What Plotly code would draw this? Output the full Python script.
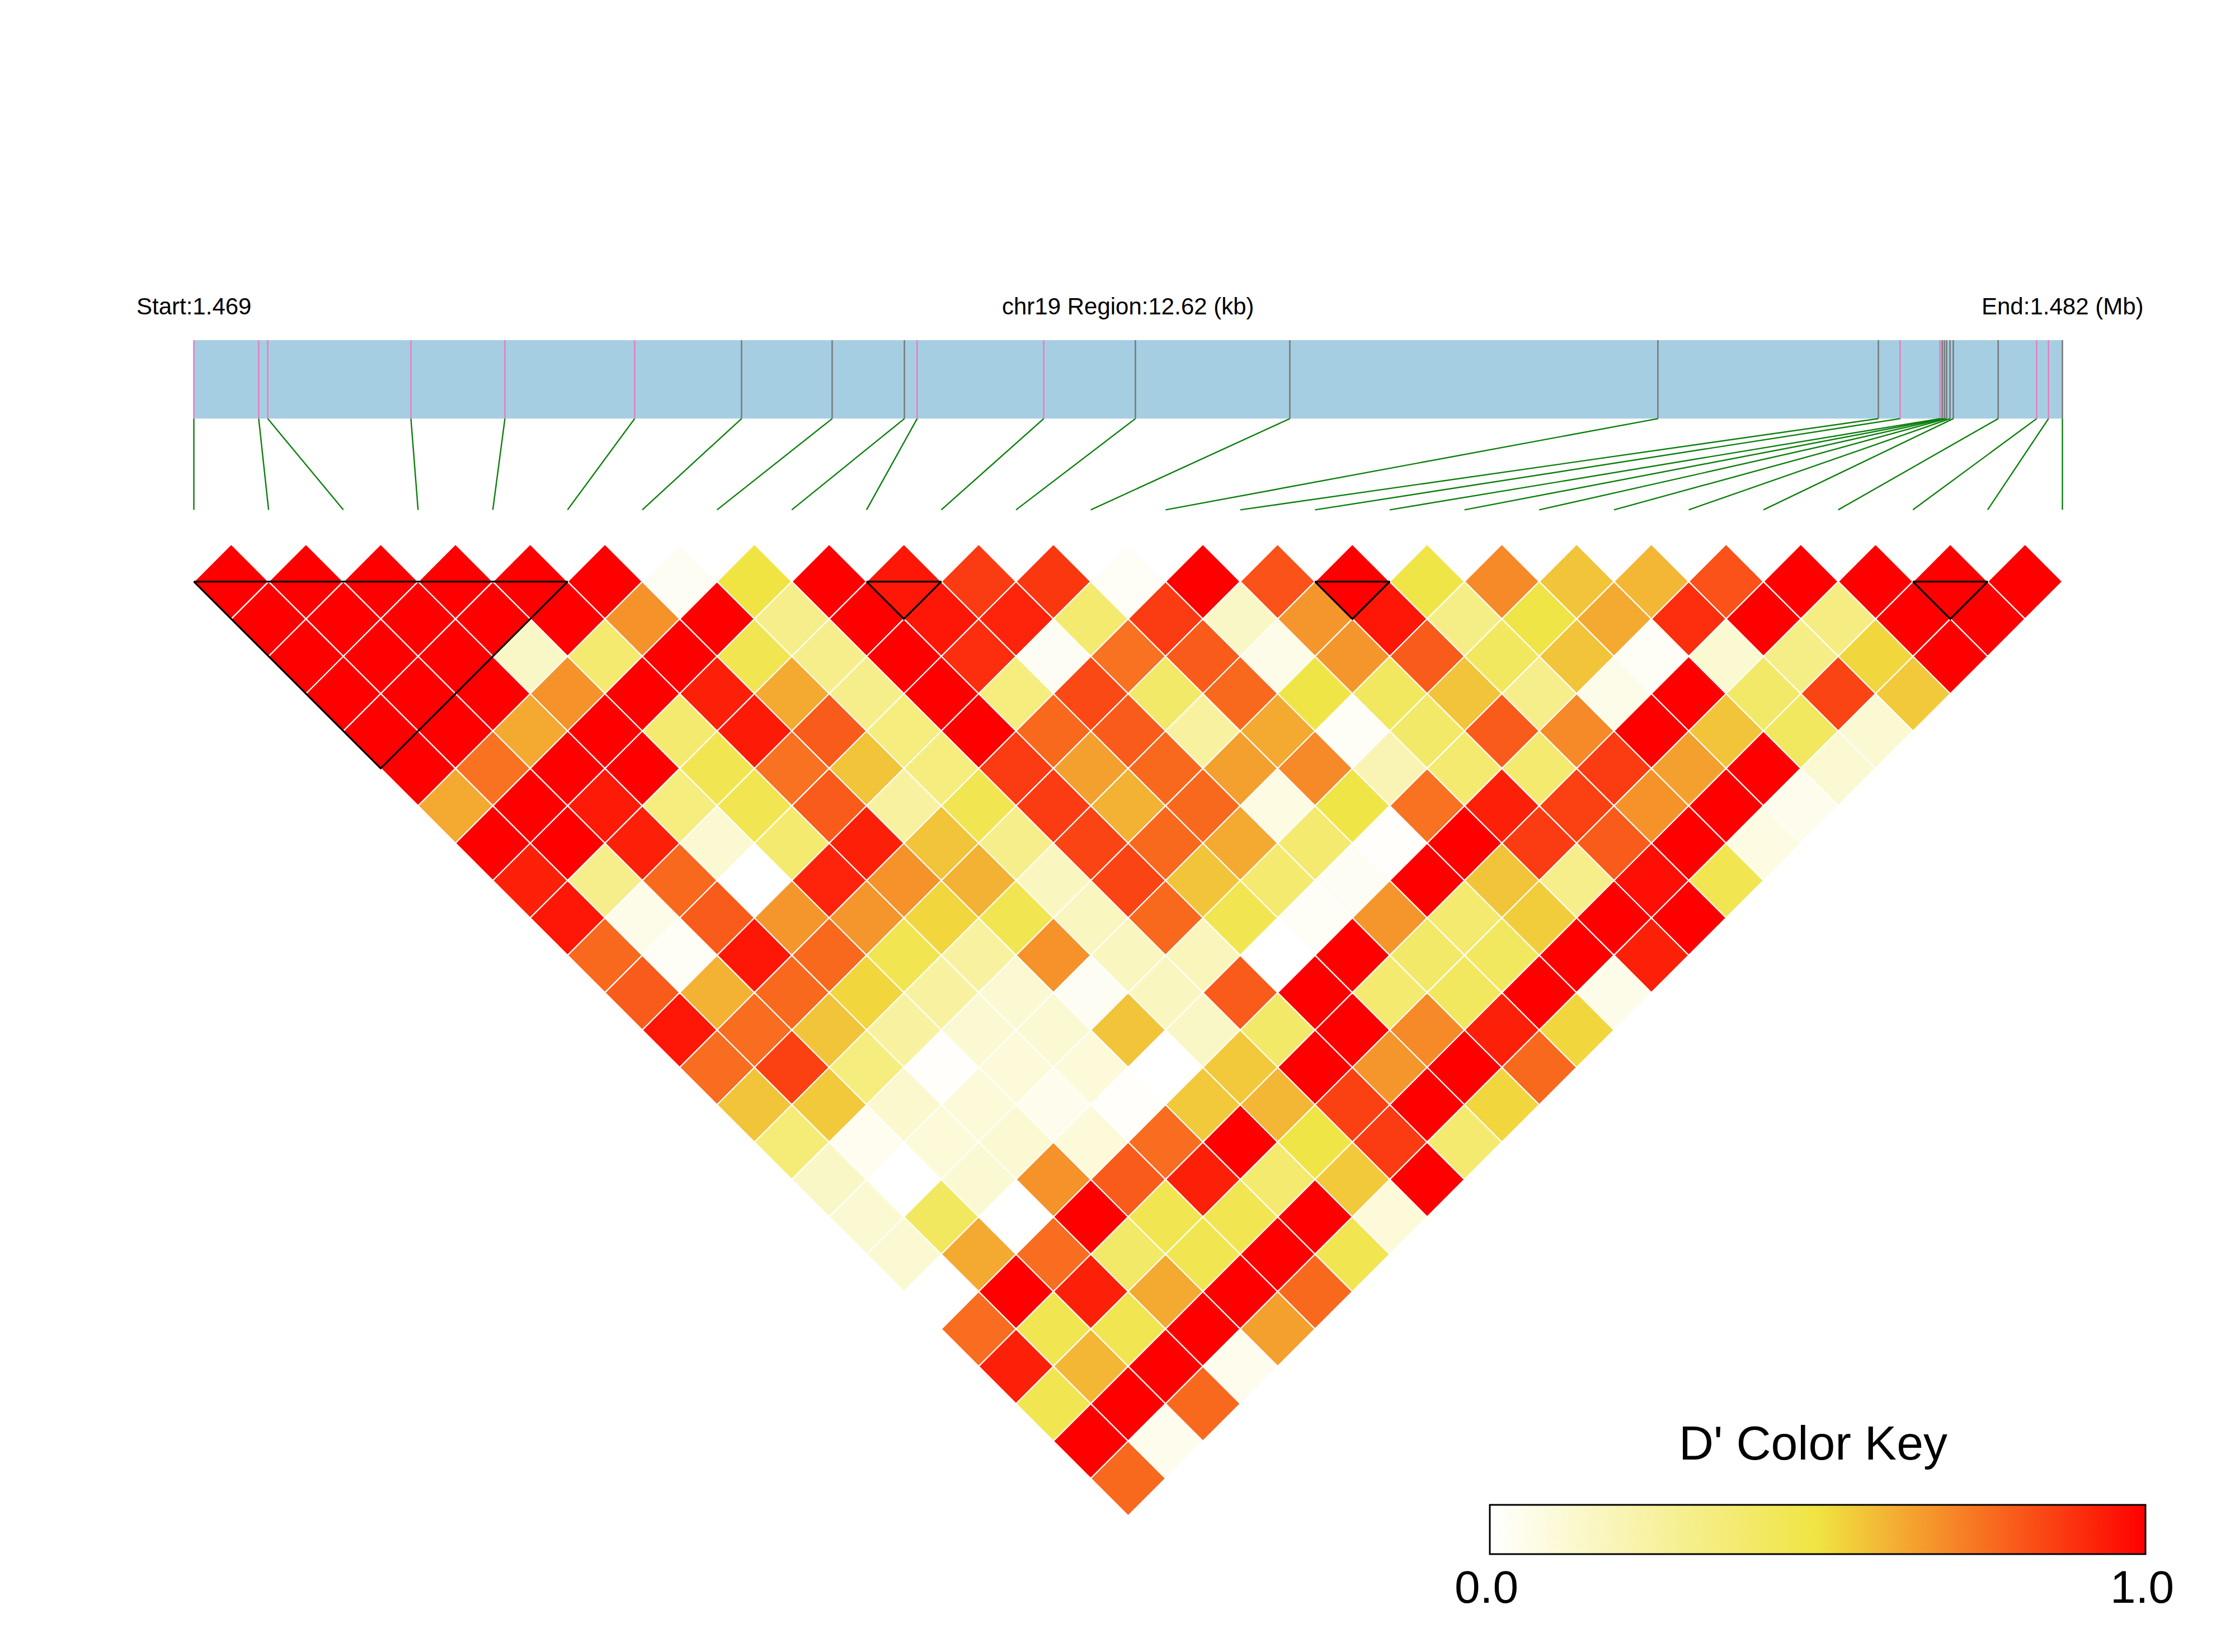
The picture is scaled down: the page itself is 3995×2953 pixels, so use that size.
import plotly.graph_objects as go
from plotly.colors import sample_colorscale

# ---------------- data ----------------
chrom = "chr19"
region_start = 1469200
region_end = 1481820

snp_pos = [1469200, 1469638, 1469699, 1470666, 1471301, 1472177, 1472899, 1473511,
           1473999, 1474085, 1474940, 1475559, 1476602, 1479088, 1480577, 1480724,
           1480993, 1481008, 1481023, 1481038, 1481061, 1481083, 1481386, 1481646,
           1481726, 1481820]
snp_group = ["pink", "pink", "pink", "pink", "pink", "pink", "gray", "gray",
             "gray", "pink", "pink", "gray", "gray", "gray", "gray", "pink",
             "pink", "gray", "gray", "gray", "gray", "gray", "gray", "pink",
             "pink", "gray"]

# D' values by SNP distance (lag k: pairs (i, i+k))
lag1 = [1, 1, 1, 1, 1, 1, 0.03, 0.50, 1, 0.95, 0.87, 0.88, 0.02, 1, 0.82, 1, 0.49, 0.70, 0.57, 0.60, 0.82, 1, 1, 1, 1]
lag2 = [1, 1, 1, 1, 1, 0.68, 1, 0.31, 1, 0.95, 0.92, 0.38, 0.87, 0.15, 0.67, 0.95, 0.32, 0.49, 0.63, 0.90, 1, 0.33, 1, 1]
lag3 = [1, 1, 1, 0.15, 0.38, 1, 0.46, 0.31, 1, 0.90, 0.03, 0.75, 0.80, 0.06, 0.67, 0.80, 0.42, 0.57, 0.02, 0.12, 0.32, 0.53, 1]
lag4 = [1, 1, 1, 0.68, 1, 0.93, 0.63, 0.31, 1, 0.34, 0.84, 0.40, 0.77, 0.49, 0.42, 0.57, 0.31, 0.06, 1, 0.40, 0.85, 0.56]
lag5 = [1, 1, 0.63, 1, 0.38, 0.94, 0.80, 0.34, 1, 0.77, 0.80, 0.25, 0.63, 0.02, 0.40, 0.80, 0.70, 1, 0.57, 0.42, 0.12]
lag6 = [1, 0.75, 1, 1, 0.46, 0.75, 0.57, 0.34, 0.87, 0.65, 0.77, 0.65, 0.70, 0.20, 0.38, 0.38, 0.87, 0.65, 1, 0.12]
lag7 = [0.63, 1, 0.94, 0.34, 0.46, 0.80, 0.25, 0.46, 0.87, 0.61, 0.77, 0.08, 0.49, 0.75, 0.93, 0.86, 0.68, 1, 0.05]
lag8 = [1, 1, 0.93, 0.12, 0.38, 0.93, 0.57, 0.31, 0.85, 0.77, 0.63, 0.38, 0.01, 1, 0.87, 0.80, 1, 0.08]
lag9 = [0.93, 0.31, 0.77, 0.0, 0.92, 0.68, 0.61, 0.17, 0.85, 0.57, 0.38, 0.03, 1, 0.57, 0.31, 0.97, 0.46]
lag10 = [0.95, 0.06, 0.80, 0.67, 0.67, 0.53, 0.46, 0.17, 0.77, 0.46, 0.02, 0.67, 0.38, 0.55, 1, 1]
lag11 = [0.77, 0.02, 0.95, 0.77, 0.46, 0.25, 0.68, 0.17, 0.18, 0.0, 1, 0.40, 0.42, 1, 0.93]
lag12 = [0.80, 0.61, 0.77, 0.53, 0.25, 0.12, 0.03, 0.17, 0.80, 1, 0.38, 0.42, 1, 0.06]
lag13 = [0.95, 0.76, 0.57, 0.25, 0.12, 0.12, 0.57, 0.15, 0.40, 1, 0.70, 0.93, 0.53]
lag14 = [0.76, 0.86, 0.34, 0.01, 0.10, 0.10, 0.0, 0.56, 1, 0.67, 1, 0.77]
lag15 = [0.57, 0.56, 0.13, 0.10, 0.05, 0.01, 0.56, 0.60, 0.86, 1, 0.53]
lag16 = [0.36, 0.04, 0.10, 0.12, 0.10, 0.76, 1, 0.49, 0.87, 0.38]
lag17 = [0.15, 0.0, 0.12, 0.68, 0.80, 0.93, 0.38, 0.56, 1]
lag18 = [0.12, 0.42, 0.0, 1, 0.46, 0.46, 1, 0.10]
lag19 = [0.12, 0.63, 0.76, 0.40, 0.46, 1, 0.46]
lag20 = [0.0, 1, 0.93, 0.63, 1, 0.77]
lag21 = [0.76, 0.46, 0.46, 1, 0.65]
lag22 = [0.93, 0.60, 1, 0.05]
lag23 = [0.46, 1, 0.77]
lag24 = [1, 0.05]
lag25 = [0.77]

ld_blocks = [(0, 5), (9, 10), (15, 16), (23, 24)]

key_ticks = [0.0, 1.0]
key_ticktext = ["0.0", "1.0"]

dprime_colorscale = [[0.0, "#FFFFFF"], [0.5, "#F0E442"], [1.0, "#FF0000"]]
group_colors = {"pink": "#E67FBF", "gray": "#7A7A7A"}

# ---------------- layout constants ----------------
FONT = "Liberation Sans, Arial, Helvetica, sans-serif"
W, H = 3995, 2953
BAR_TOP, BAR_BOTTOM, LINK_BOTTOM, LABEL_Y = 3.23, 2.18, 0.96, 3.68
KEY_LEFT, KEY_RIGHT = 2663 / W, 3835 / W   # colour key extent (paper)
KEY_TOP = 1 - 2690 / H

lags = [lag1, lag2, lag3, lag4, lag5, lag6, lag7, lag8, lag9, lag10, lag11, lag12,
        lag13, lag14, lag15, lag16, lag17, lag18, lag19, lag20, lag21, lag22, lag23,
        lag24, lag25]
n = len(snp_pos)
span = region_end - region_start


def phys_x(bp):
    return (bp - region_start) / span * (n - 1)


fig = go.Figure()

# LD cells (rotated squares)
for d, row in enumerate(lags, start=1):
    colors = sample_colorscale(dprime_colorscale, row)
    for i, v in enumerate(row):
        j = i + d
        cx = (i + j) / 2.0
        cy = -(j - i - 1) / 2.0
        fig.add_trace(go.Scatter(
            x=[cx - 0.5, cx, cx + 0.5, cx, cx - 0.5],
            y=[cy, cy + 0.5, cy, cy - 0.5, cy],
            mode="lines", fill="toself", fillcolor=colors[i],
            line=dict(color="white", width=2.2),
            hoverinfo="text", text=f"SNP{i+1} - SNP{j+1}: D'={v:.2f}",
            showlegend=False))

# LD block outlines
bx, by = [], []
for a, b in ld_blocks:
    bx += [a, b, (a + b) / 2.0, a, None]
    by += [0, 0, -(b - a) / 2.0, 0, None]
fig.add_trace(go.Scatter(x=bx, y=by, mode="lines",
                         line=dict(color="black", width=3.2),
                         hoverinfo="skip", showlegend=False))

# genomic bar
x0, x1 = phys_x(region_start), phys_x(region_end)
fig.add_trace(go.Scatter(x=[x0, x1, x1, x0, x0],
                         y=[BAR_BOTTOM, BAR_BOTTOM, BAR_TOP, BAR_TOP, BAR_BOTTOM],
                         mode="lines", fill="toself", fillcolor="#A6CEE3",
                         line=dict(width=0, color="#A6CEE3"),
                         hoverinfo="skip", showlegend=False))

# SNP ticks inside the bar
for grp in ["gray", "pink"]:
    tx, ty = [], []
    for p, g in zip(snp_pos, snp_group):
        if g == grp:
            tx += [phys_x(p), phys_x(p), None]
            ty += [BAR_BOTTOM, BAR_TOP, None]
    fig.add_trace(go.Scatter(x=tx, y=ty, mode="lines",
                             line=dict(color=group_colors[grp], width=2.6),
                             hoverinfo="skip", showlegend=False))

# connecting lines
lx, ly = [], []
for k, p in enumerate(snp_pos):
    lx += [phys_x(p), k, None]
    ly += [BAR_BOTTOM, LINK_BOTTOM, None]
fig.add_trace(go.Scatter(x=lx, y=ly, mode="lines",
                         line=dict(color="#0B7F0B", width=2.4),
                         hoverinfo="skip", showlegend=False))

# colour key (colorbar)
fig.add_trace(go.Scatter(
    x=[None], y=[None], mode="markers",
    marker=dict(color=[0.0], cmin=0, cmax=1, colorscale=dprime_colorscale,
                showscale=True,
                colorbar=dict(orientation="h", x=(KEY_LEFT + KEY_RIGHT) / 2, xanchor="center",
                              y=KEY_TOP, yanchor="top",
                              len=(KEY_RIGHT - KEY_LEFT) * W, lenmode="pixels",
                              thickness=88, thicknessmode="pixels",
                              outlinewidth=3, outlinecolor="black",
                              xpad=0, ypad=0,
                              tickvals=key_ticks, showticklabels=False,
                              ticks="")),
    hoverinfo="skip", showlegend=False))

label_font = dict(size=42, family=FONT, color="black")
annotations = [
    dict(x=x0, y=LABEL_Y, xref="x", yref="y", text=f"Start:{region_start/1e6:.3f}",
         showarrow=False, font=label_font, xanchor="center", yanchor="middle"),
    dict(x=(x0 + x1) / 2, y=LABEL_Y, xref="x", yref="y",
         text=f"{chrom} Region:{span/1000:.2f} (kb)",
         showarrow=False, font=label_font, xanchor="center", yanchor="middle"),
    dict(x=x1, y=LABEL_Y, xref="x", yref="y", text=f"End:{region_end/1e6:.3f} (Mb)",
         showarrow=False, font=label_font, xanchor="center", yanchor="middle"),
    dict(x=(KEY_LEFT + KEY_RIGHT) / 2 - 8 / W, y=1 - 2579 / H, xref="paper", yref="paper",
         text="D' Color Key", showarrow=False,
         font=dict(size=86, family=FONT, color="black"),
         xanchor="center", yanchor="middle"),
]
for t, lab in zip(key_ticks, key_ticktext):
    annotations.append(dict(
        x=KEY_LEFT + t * (KEY_RIGHT - KEY_LEFT) - 6 / W, y=1 - 2836 / H,
        xref="paper", yref="paper", text=lab, showarrow=False,
        font=dict(size=82, family=FONT, color="black"),
        xanchor="center", yanchor="middle"))

fig.update_layout(
    width=W, height=H,
    margin=dict(l=0, r=0, t=0, b=0, pad=0),
    paper_bgcolor="white", plot_bgcolor="white",
    xaxis=dict(range=[-346.5 / 133.6, (W - 346.5) / 133.6], visible=False, fixedrange=True),
    yaxis=dict(range=[(1039.6 - H) / 133.6, 1039.6 / 133.6], visible=False, fixedrange=True),
    annotations=annotations,
    showlegend=False,
)

fig.write_html("out.html", config={"displayModeBar": False},
               post_script="document.body.style.margin='0px';document.body.style.padding='0px';")
